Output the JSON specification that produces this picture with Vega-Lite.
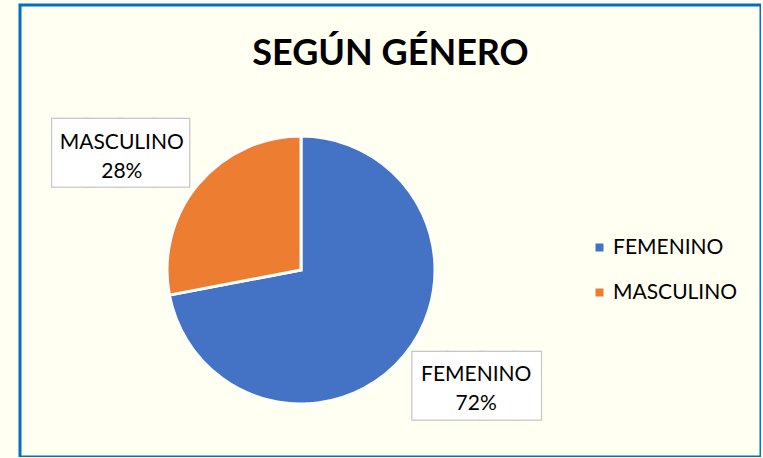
{
  "$schema": "https://vega.github.io/schema/vega-lite/v6.json",
  "width": 741,
  "height": 452,
  "autosize": {"type": "none"},
  "padding": {"left": 20, "top": 5, "right": 0, "bottom": 0},
  "background": "#FFFFF2",
  "view": {"stroke": "#0070C0", "strokeWidth": 3, "fill": "#FFFFF2"},
  "config": {
    "view": {"stroke": "#0070C0", "strokeWidth": 3, "fill": "#FFFFF2"},
    "font": "Lato",
    "legend": {
      "orient": "none",
      "legendX": 569,
      "legendY": 232,
      "symbolType": "square",
      "symbolSize": 64,
      "symbolStrokeWidth": 0,
      "labelFont": "Lato",
      "labelFontSize": 21,
      "labelColor": "#000000",
      "labelOffset": 3,
      "rowPadding": 23
    }
  },
  "title": {
    "text": "SEGÚN GÉNERO",
    "font": "Lato",
    "fontSize": 36,
    "fontWeight": "bold",
    "color": "#000000",
    "anchor": "middle",
    "offset": -68
  },
  "data": {
    "values": [
      {"genero": "FEMENINO", "porcentaje": 72},
      {"genero": "MASCULINO", "porcentaje": 28}
    ]
  },
  "transform": [
    {"calculate": "datum.genero + '\\n' + datum.porcentaje + '%'", "as": "etiqueta"}
  ],
  "layer": [
    {
      "mark": {"type": "arc", "x": 281, "y": 265, "outerRadius": 134, "stroke": "#FFFFFF", "strokeWidth": 3},
      "encoding": {
        "theta": {"field": "porcentaje", "type": "quantitative", "stack": true},
        "order": {"field": "genero", "sort": "ascending"},
        "color": {
          "field": "genero",
          "type": "nominal",
          "scale": {"domain": ["FEMENINO", "MASCULINO"], "range": ["#4472C4", "#ED7D31"]},
          "legend": {"title": null}
        }
      }
    },
    {
      "mark": {"type": "text", "x": 281, "y": 265, "radius": 212, "thetaOffset": -0.11, "dx": -3, "dy": 1, "font": "DejaVu Sans Mono", "fontSize": 56, "fill": "#C6C6C6", "stroke": "#C6C6C6", "strokeWidth": 3.5, "align": "center", "baseline": "middle"},
      "encoding": {
        "theta": {"field": "porcentaje", "type": "quantitative", "stack": true},
        "order": {"field": "genero", "sort": "ascending"},
        "text": {"condition": {"test": "datum.genero == 'MASCULINO'", "value": "████"}, "value": ""}
      }
    },
    {
      "mark": {"type": "text", "x": 281, "y": 265, "radius": 212, "thetaOffset": -0.11, "dx": -3, "dy": 1, "font": "DejaVu Sans Mono", "fontSize": 56, "fill": "#FFFFFF", "stroke": "#FFFFFF", "strokeWidth": 1, "align": "center", "baseline": "middle"},
      "encoding": {
        "theta": {"field": "porcentaje", "type": "quantitative", "stack": true},
        "order": {"field": "genero", "sort": "ascending"},
        "text": {"condition": {"test": "datum.genero == 'MASCULINO'", "value": "████"}, "value": ""}
      }
    },
    {
      "mark": {"type": "text", "x": 281, "y": 265, "radius": 212, "thetaOffset": -0.11, "dx": 3, "dy": 2, "font": "DejaVu Sans Mono", "fontSize": 56, "fill": "#C6C6C6", "stroke": "#C6C6C6", "strokeWidth": 3.5, "align": "center", "baseline": "middle"},
      "encoding": {
        "theta": {"field": "porcentaje", "type": "quantitative", "stack": true},
        "order": {"field": "genero", "sort": "ascending"},
        "text": {"condition": {"test": "datum.genero == 'FEMENINO'", "value": "███▊"}, "value": ""}
      }
    },
    {
      "mark": {"type": "text", "x": 281, "y": 265, "radius": 212, "thetaOffset": -0.11, "dx": 3, "dy": 2, "font": "DejaVu Sans Mono", "fontSize": 56, "fill": "#FFFFFF", "stroke": "#FFFFFF", "strokeWidth": 1, "align": "center", "baseline": "middle"},
      "encoding": {
        "theta": {"field": "porcentaje", "type": "quantitative", "stack": true},
        "order": {"field": "genero", "sort": "ascending"},
        "text": {"condition": {"test": "datum.genero == 'FEMENINO'", "value": "███▊"}, "value": ""}
      }
    },
    {
      "mark": {"type": "text", "x": 281, "y": 265, "radius": 212, "thetaOffset": -0.11, "dx": -2, "dy": -11, "font": "Lato", "fontSize": 21, "color": "#000000", "align": "center", "baseline": "middle", "lineBreak": "\n", "lineHeight": 29},
      "encoding": {
        "theta": {"field": "porcentaje", "type": "quantitative", "stack": true},
        "order": {"field": "genero", "sort": "ascending"},
        "text": {"field": "etiqueta", "type": "nominal"}
      }
    }
  ]
}
